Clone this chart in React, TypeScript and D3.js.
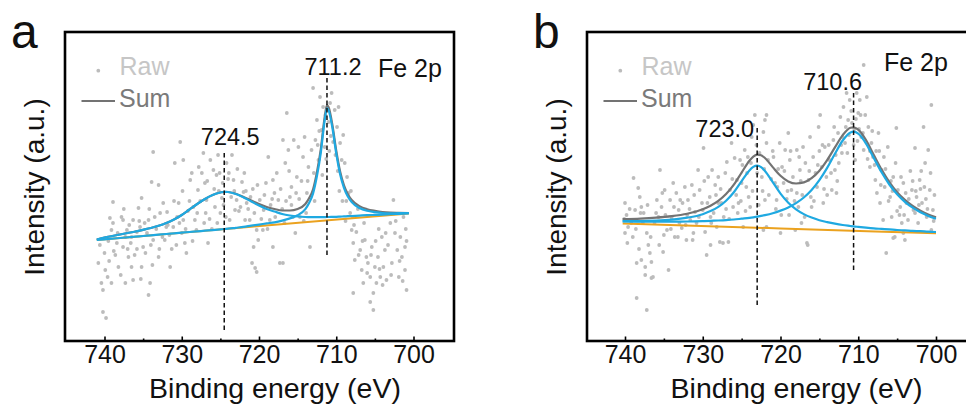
import React, { useEffect, useRef } from "react";
import * as d3 from "d3";

type Pt = [number, number];

const WIDTH = 966;
const HEIGHT = 408;

const BLUE = "#1fa9e1";
const GRAY = "#737373";
const ORANGE = "#eba21f";
const RAW = "#bcbcbc";
const FONT = "Arial, 'Liberation Sans', sans-serif";

const xTicks = [740, 730, 720, 710, 700];
const xMinorTicks = [735, 725, 715, 705];

// ---- panel a (fitted curves, intensity in a.u.) ----
const energiesA = [741, 740, 739, 738, 737, 736, 735, 734, 733, 732, 731, 730, 729, 728, 727, 726, 725, 724.5, 724, 723, 722, 721, 720, 719, 718, 717, 716, 715, 714, 713.5, 713, 712.5, 712, 711.5, 711.2, 711, 710.5, 710, 709.5, 709, 708.5, 708, 707, 706, 705, 704, 703, 702, 700.6];
const peak1A = [101.5, 103.5, 105, 106.5, 108, 109.5, 111.2, 113, 115.2, 118, 121.5, 126, 131.5, 137, 142, 146, 148.5, 149.2, 149, 147, 143.5, 139.5, 135.5, 132, 129.5, 127, 125.5, 124.5, 124, 123.9, 123.8, 123.8, 123.8, 123.9, 124, 124, 124.1, 124.2, 124.4, 124.6, 124.8, 125, 125.4, 125.8, 126.1, 126.4, 126.8, 127.1, 127.5];
const peak2A = [101, 101.7, 102.3, 103, 103.7, 104.3, 105, 105.6, 106.3, 107, 107.6, 108.3, 109, 109.6, 110.3, 110.9, 111.6, 112, 112.3, 113.2, 114.1, 115.3, 116.4, 117.6, 118.7, 120.4, 122.6, 125.7, 131.9, 138.2, 147.6, 164.9, 188.2, 220.5, 232.7, 230.9, 213.2, 187.5, 166.8, 153.2, 144.5, 138.9, 133, 130.2, 128.9, 128, 127.7, 127.8, 128];
const sumA = [101.5, 103.5, 105, 106.5, 108, 109.5, 111.2, 113, 115.2, 118, 121.5, 126, 131.5, 137, 142, 146, 148.5, 149.2, 149, 147.3, 144, 140.5, 137, 134, 132, 130.5, 130.5, 132, 137, 142.9, 151.8, 168.8, 191.8, 223.9, 236, 234, 216.1, 190.2, 169.4, 155.6, 146.8, 141, 134.9, 131.8, 130.1, 128.9, 128.3, 128.1, 128];
const backgroundA: Pt[] = [[741, 101], [721, 114.3], [700.6, 127.5]];
const peaksA = [724.5, 711.2];
const peakTextA = ["724.5", "711.2"];
const peakSpanA: Pt[] = [[188, 8], [263, 84]];

const rawA: Pt[] = [
  [740.2, 29], [739.8, 23], [740.4, 58], [740.2, 51], [740.8, 78], [739.9, 71], [739.3, 123], [738.9, 139], [739.1, 111], [738.4, 98],
  [738.6, 86], [738.2, 74], [739.1, 58], [737.8, 124], [737.6, 121], [737.1, 111], [737.6, 94], [736.9, 84], [737.3, 58], [736.5, 104],
  [736.3, 121], [735.8, 109], [736.5, 74], [736.3, 61], [735.6, 133], [735.2, 143], [735.4, 114], [735, 94], [735.2, 74], [734.5, 108],
  [734.3, 121], [733.9, 159], [733, 156], [733.7, 101], [734.1, 58], [734.3, 46], [733, 84], [732.8, 128], [731.9, 129], [732.2, 101],
  [731.5, 74], [731.1, 114], [730.4, 138], [730.9, 178], [729.8, 181], [730.2, 199], [733.7, 189], [729.8, 121], [729.6, 98], [729.4, 88],
  [728.9, 161], [728.7, 168], [728.5, 134], [728.1, 111], [727.9, 151], [727.4, 168], [727.2, 188], [727, 158], [726.8, 141], [726.6, 98],
  [726.3, 181], [725.9, 171], [725.5, 166], [725.3, 186], [725.7, 134], [725, 128], [724.8, 143], [724.2, 178], [723.5, 186], [723.3, 161],
  [723.1, 131], [723.8, 121], [722.9, 141], [722.2, 159], [722, 149], [721.8, 121], [721.6, 138], [721.2, 121], [720.9, 78], [720.5, 73],
  [720.3, 111], [720.1, 101], [720.7, 94], [720.3, 69], [719.4, 131], [718.8, 184], [718.6, 121], [718.2, 161], [718, 148], [717.5, 141],
  [717.3, 78], [716.9, 201], [716.6, 178], [716.4, 228], [716.2, 191], [716, 144], [715.8, 154], [715.5, 201], [715.3, 108], [715.1, 164],
  [714.9, 194], [714.7, 124], [714.3, 184], [714.1, 204], [713.8, 148], [713.6, 174], [713.4, 94], [713.2, 191], [713, 253], [712.7, 201],
  [712.5, 221], [712.3, 181], [712.1, 244], [711.9, 211], [711.7, 234], [711.5, 194], [711, 219], [710.8, 238], [710.6, 248], [710.4, 199],
  [710.2, 231], [709.9, 214], [709.7, 234], [709.5, 198], [709.3, 181], [708.9, 178], [708.6, 164], [708.4, 148], [708.2, 128], [708, 111],
  [707.8, 98], [707.6, 81], [707.4, 109], [706.9, 91], [706.7, 71], [706.5, 58], [706.3, 101], [706.1, 84], [705.9, 78], [705.6, 64],
  [705.4, 94], [705.2, 48], [705, 74], [704.8, 58], [704.6, 84], [704.3, 64], [704.1, 104], [703.9, 74], [703.7, 91], [703.5, 61],
  [703, 118], [702.8, 78], [702.6, 141], [702.1, 91], [701.9, 64], [701.7, 104], [701.5, 84], [701.3, 124], [701.1, 94], [700.9, 51],
  [701.1, 71], [705.2, 31], [705.6, 39], [707.8, 48], [716.9, 78], [718.2, 94], [719.5, 111], [739.5, 100], [738.8, 90], [737.3, 104],
  [736.8, 116], [735.8, 92], [734.8, 118], [734, 96], [733.3, 112], [732.5, 104], [731.8, 116], [731.3, 92], [730.6, 124], [730, 108],
  [729.2, 130], [728.3, 121], [727.6, 140], [726.9, 128], [726.1, 112], [725.2, 150], [724.6, 136], [724, 162], [723.6, 144], [722.6, 130],
  [721.9, 168], [721.4, 132], [720.8, 152], [719.9, 141], [719.1, 158], [718.5, 136], [717.7, 168], [717, 132], [716.7, 118], [715.8, 136],
  [714.5, 160], [713.9, 128], [712.9, 168], [712.2, 210], [711.3, 182], [710.7, 205], [709.8, 170], [709.1, 206], [708.7, 140], [707.9, 124],
  [707.2, 132], [706.4, 118], [704.5, 112], [703.3, 96], [702.4, 108], [700.9, 100],
  [740.6, 96], [740, 88], [739.6, 64], [739.4, 80], [738.9, 118], [738.3, 108], [737.9, 66], [737.5, 132], [737, 92], [736.6, 98],
  [736.1, 86], [735.5, 120], [735.3, 62], [734.7, 88], [734.2, 132], [733.8, 76], [733.5, 124], [732.9, 92], [732.4, 138], [732, 114],
  [731.6, 106], [731, 140], [730.7, 96], [730.3, 118], [729.9, 150], [729.5, 112], [729, 140], [728.6, 100], [728, 128], [727.8, 174],
  [727.1, 118], [726.7, 160], [726.4, 122], [725.8, 152], [725.4, 118], [725.1, 168], [724.7, 158], [724.3, 124], [723.9, 168], [723.2, 150],
  [722.8, 172], [722.4, 134], [721.7, 150], [721.1, 144], [720.6, 128], [720.2, 156], [719.7, 122], [719.3, 146], [718.9, 112], [718.3, 142],
  [717.9, 124], [717.2, 152], [716.5, 140], [716.1, 170], [715.6, 124], [715.2, 148], [714.8, 142], [714.2, 120], [713.7, 160], [712.8, 140],
  [712.4, 196], [711.8, 166], [711.4, 226], [710.9, 190], [710.1, 186], [709.6, 150], [709.2, 140], [708.8, 120], [708.1, 150], [707.7, 116],
  [707.1, 86], [706.6, 100], [706, 68], [705.5, 86], [704.9, 100], [704.4, 72], [704, 56], [703.6, 108], [702.9, 66], [702.3, 120],
  [701.8, 80], [701.4, 60], [701, 112],
];

// ---- panel b ----
const energiesB = [740.3, 738, 736, 734, 732, 730, 729, 728, 727, 726, 725, 724, 723.5, 723, 722.5, 722, 721, 720, 719, 718, 717, 716, 715, 714, 713, 712, 711, 710.6, 710, 709, 708, 707, 706, 705, 704, 703, 702, 701, 700];
const peak1B = [119.8, 119.9, 120.4, 121.4, 123.3, 126.8, 129.9, 134.1, 140.3, 148.8, 159.9, 170.6, 174.1, 175.3, 173.9, 170.1, 158.9, 147.4, 138.3, 131.7, 126.9, 123.4, 120.8, 118.9, 117.3, 116, 115, 114.6, 114.1, 113.3, 112.6, 112.1, 111.6, 111, 110.6, 110.1, 109.8, 109.3, 109];
const peak2B = [119.6, 119.4, 119.3, 119.4, 119.5, 119.9, 120.2, 120.5, 120.9, 121.5, 122.3, 123.1, 123.7, 124.4, 125.1, 125.9, 127.8, 130.4, 133.6, 137.9, 143.5, 151, 160.8, 173.1, 187.2, 200.5, 208.6, 209.3, 207.3, 197.4, 183, 168.7, 156.5, 146.7, 139.2, 133.3, 128.7, 125.1, 122.3];
const sumB = [121.9, 122.4, 123.3, 124.8, 127.3, 131.7, 135.3, 140.1, 146.9, 156.3, 168.4, 180.2, 184.4, 186.4, 185.8, 183, 173.9, 165.2, 159.6, 157.5, 158.6, 162.8, 170.3, 180.9, 193.6, 205.9, 213.2, 213.6, 211.3, 200.8, 186, 171.4, 158.9, 148.8, 141.1, 135, 130.3, 126.5, 123.6];
const backgroundB: Pt[] = [[740.3, 117.5], [720, 112.6], [700, 107.7]];
const peaksB = [723.0, 710.6];
const peakTextB = ["723.0", "710.6"];
const peakSpanB: Pt[] = [[213, 33], [248, 69]];

const rawB: Pt[] = [
  [740, 138], [739.8, 126], [739.6, 114], [740, 108], [738.9, 163], [738.7, 131], [738.3, 153], [738.1, 144], [738.5, 78], [737.9, 134],
  [737.6, 128], [737.4, 74], [737.2, 108], [737, 96], [736.8, 88], [736.6, 79], [736.4, 64], [737.4, 66], [735.9, 141], [735.7, 124],
  [735.5, 171], [735.3, 134], [735.1, 89], [734.9, 151], [734.6, 111], [734.4, 71], [734.2, 141], [734, 123], [733.8, 158], [733.6, 104],
  [733.4, 148], [733.1, 131], [732.9, 141], [732.7, 113], [732.3, 154], [732.1, 101], [731.9, 141], [731.6, 121], [731.4, 156], [731.2, 108],
  [731, 129], [730.6, 171], [730.4, 151], [730.1, 138], [729.9, 193], [729.7, 109], [729.5, 86], [729.3, 164], [729.1, 144], [728.8, 171],
  [728.6, 128], [728.4, 156], [728.2, 114], [728, 164], [727.8, 99], [727.6, 138], [727.1, 168], [726.9, 179], [726.7, 99], [726.5, 151],
  [726.3, 198], [725.9, 183], [725.6, 161], [725.4, 138], [725.2, 181], [725, 158], [724.8, 114], [724.6, 191], [724.3, 168], [724.1, 144],
  [723.9, 134], [723.7, 204], [723.3, 226], [723.5, 216], [722.2, 209], [721.8, 226], [722.4, 164], [722, 141], [721.6, 181], [721.8, 114],
  [738.5, 43], [737.2, 31], [736.6, 63], [737.9, 81], [722, 221], [721.8, 198], [720.9, 184], [720.7, 158], [720.5, 141], [720.1, 198],
  [719.8, 174], [719.6, 158], [719.4, 191], [719, 208], [718.8, 181], [718.6, 151], [718.4, 164], [718.1, 111], [717.9, 191], [717.7, 134],
  [717.5, 171], [717.3, 118], [717.1, 194], [716.6, 98], [716.4, 161], [716.2, 204], [716, 134], [715.8, 184], [715.3, 154], [715.1, 214],
  [714.9, 226], [714.7, 174], [714.5, 138], [714.3, 194], [714.1, 164], [713.7, 181], [713.4, 151], [713.2, 201], [713, 171], [712.8, 148],
  [712.6, 208], [712.3, 224], [712.1, 188], [711.9, 234], [711.7, 198], [711.5, 248], [711.3, 221], [711.1, 241], [710.2, 248], [710, 228],
  [709.8, 241], [709.3, 276], [710.4, 181], [709.6, 204], [709.3, 191], [708.9, 244], [708.7, 214], [708.5, 174], [708.3, 198], [708.1, 184],
  [707.8, 161], [707.6, 148], [707.4, 208], [707.2, 138], [707, 171], [706.8, 121], [706.6, 154], [706.4, 88], [706.2, 194], [705.9, 144],
  [705.7, 124], [705.5, 164], [705.3, 104], [705.1, 213], [704.9, 151], [704.6, 134], [704.4, 118], [704.2, 158], [704, 101], [703.8, 138],
  [703.6, 121], [703.1, 151], [702.9, 131], [702.7, 193], [702.5, 144], [702.3, 118], [702.1, 161], [701.8, 138], [701.6, 214], [701.4, 178],
  [701.2, 124], [701, 191], [700.8, 151], [700.6, 236], [700.4, 131], [700.6, 111], [704.2, 108], [705.5, 103], [716.5, 96], [720, 108],
  [722.2, 111], [727.4, 98], [729, 96], [731.3, 101], [739.2, 118], [738, 128], [736.2, 118], [735, 106], [733, 118], [732, 126],
  [730.8, 118], [730, 131], [729, 124], [728, 138], [727.3, 124], [726.1, 134], [725.7, 146], [724.9, 176], [724.4, 154], [723.8, 178],
  [723, 168], [722.7, 188], [722.3, 150], [721.2, 162], [720.6, 132], [720.3, 172], [719.2, 142], [718.9, 126], [717.9, 148], [717.4, 160],
  [716.8, 178], [716.1, 144], [715.5, 168], [715, 190], [714.4, 152], [713.8, 196], [712.9, 186], [712.5, 178], [712, 204], [711.4, 188],
  [710.8, 218], [710.6, 196], [710.3, 222], [709.9, 212], [709.1, 226], [708.5, 190], [707.9, 176], [707.3, 190], [706.5, 172], [705.8, 160],
  [705.2, 178], [704.7, 126], [703.9, 148], [703.3, 170], [702.7, 128], [702, 152], [701.3, 142], [700.7, 168], [700.2, 146],
  [740.1, 122], [739.7, 98], [739.4, 132], [739, 104], [738.6, 112], [738.2, 92], [737.7, 118], [737.1, 136], [736.7, 104], [736, 128],
  [735.6, 96], [735.2, 148], [734.8, 126], [734.1, 112], [733.7, 134], [733.2, 104], [732.6, 138], [732.2, 116], [731.7, 132], [731.1, 146],
  [730.5, 124], [729.8, 160], [729.4, 138], [728.9, 118], [728.3, 146], [727.7, 152], [727, 132], [726.6, 122], [726.2, 162], [725.5, 128],
  [725.1, 140], [724.5, 130], [724.2, 184], [723.6, 150], [723.1, 196], [722.8, 136], [722.1, 172], [721.5, 146], [721, 190], [720.4, 154],
  [719.9, 126], [719.5, 170], [719.1, 150], [718.7, 190], [718.2, 140], [717.6, 184], [717.2, 146], [716.9, 124], [716.3, 170], [715.7, 140],
  [715.2, 176], [714.6, 196], [714, 146], [713.5, 168], [713.1, 214], [712.7, 160], [712.2, 196], [711.6, 214], [711.2, 206], [710.9, 230],
  [710.5, 212], [710.1, 200], [709.7, 226], [709.4, 208], [708.8, 182], [708.2, 210], [707.7, 190], [707.1, 156], [706.7, 184], [706.1, 140],
  [705.6, 150], [705, 130], [704.5, 164], [704.1, 126], [703.5, 142], [703, 160], [702.6, 150], [702.2, 136], [701.9, 170], [701.5, 154],
  [701.1, 132], [700.3, 120],
];

const zip = (xs: number[], ys: number[]): Pt[] => xs.map((e, i) => [e, ys[i]]);

interface PanelCfg {
  letter: string;
  frameLeft: number;
  frameRight: number;
  xRange: [number, number];
  raw: Pt[];
  background: Pt[];
  sum: Pt[];
  peaks: Pt[][];
  peakEnergies: number[];
  peakText: string[];
  peakSpan: Pt[];
  labelOffset: { dx: number; dy: number; anchor: string }[];
  fePos: Pt;
}

const panels: PanelCfg[] = [
  {
    letter: "a",
    frameLeft: 65,
    frameRight: 454,
    xRange: [104.5, 413.5],
    raw: rawA,
    background: backgroundA,
    sum: zip(energiesA, sumA),
    peaks: [zip(energiesA, peak1A), zip(energiesA, peak2A)],
    peakEnergies: peaksA,
    peakText: peakTextA,
    peakSpan: peakSpanA,
    labelOffset: [
      { dx: 6, dy: -8, anchor: "middle" },
      { dx: 6, dy: -3, anchor: "middle" },
    ],
    fePos: [378, 77],
  },
  {
    letter: "b",
    frameLeft: 587,
    frameRight: 976,
    xRange: [625, 936],
    raw: rawB,
    background: backgroundB,
    sum: zip(energiesB, sumB),
    peaks: [zip(energiesB, peak1B), zip(energiesB, peak2B)],
    peakEnergies: peaksB,
    peakText: peakTextB,
    peakSpan: peakSpanB,
    labelOffset: [
      { dx: -3, dy: 9, anchor: "end" },
      { dx: -21, dy: -3, anchor: "middle" },
    ],
    fePos: [884, 71],
  },
];

function drawPanel(svg: d3.Selection<SVGSVGElement, unknown, null, undefined>, p: PanelCfg) {
  const top = 32;
  const bottom = 341;
  const x = d3.scaleLinear().domain([740, 700]).range(p.xRange);
  const y = d3.scaleLinear().domain([0, 309]).range([bottom, top]);
  const g = svg.append("g").style("font-family", FONT);

  // raw points
  g.append("g")
    .selectAll("circle")
    .data(p.raw)
    .enter()
    .append("circle")
    .attr("cx", (d) => x(d[0]))
    .attr("cy", (d) => y(d[1]))
    .attr("r", 1.9)
    .attr("fill", RAW);

  const line = d3
    .line<Pt>()
    .x((d) => x(d[0]))
    .y((d) => y(d[1]))
    .curve(d3.curveMonotoneX);

  g.append("path").attr("d", line(p.background)).attr("fill", "none").attr("stroke", ORANGE).attr("stroke-width", 2);
  g.append("path").attr("d", line(p.sum)).attr("fill", "none").attr("stroke", GRAY).attr("stroke-width", 2.2);
  p.peaks.forEach((pk) => {
    g.append("path").attr("d", line(pk)).attr("fill", "none").attr("stroke", BLUE).attr("stroke-width", 2.2);
  });

  // peak markers
  p.peakEnergies.forEach((e, i) => {
    const [hi, lo] = p.peakSpan[i];
    g.append("line")
      .attr("x1", x(e))
      .attr("x2", x(e))
      .attr("y1", y(hi))
      .attr("y2", y(lo))
      .attr("stroke", "#111")
      .attr("stroke-width", 1.5)
      .attr("stroke-dasharray", "4.5,3");
    const o = p.labelOffset[i];
    g.append("text")
      .attr("x", x(e) + o.dx)
      .attr("y", y(hi) + o.dy)
      .attr("text-anchor", o.anchor)
      .style("font-size", "23.5px")
      .attr("fill", "#111")
      .text(p.peakText[i]);
  });

  // frame
  g.append("rect")
    .attr("x", p.frameLeft)
    .attr("y", top)
    .attr("width", p.frameRight - p.frameLeft)
    .attr("height", bottom - top)
    .attr("fill", "none")
    .attr("stroke", "#000")
    .attr("stroke-width", 2.6);

  // x axis, ticks pointing inward
  const axis = g.append("g").attr("transform", `translate(0,${bottom})`);
  axis.call(d3.axisBottom(x).tickValues(xTicks).tickSize(-4.5).tickPadding(4).tickFormat(d3.format("d")));
  const minor = g.append("g").attr("transform", `translate(0,${bottom})`);
  minor.call(d3.axisBottom(x).tickValues(xMinorTicks).tickSize(-2.5).tickFormat(() => ""));
  [axis, minor].forEach((a) => {
    a.select(".domain").remove();
    a.selectAll("line").attr("stroke", "#000").attr("stroke-width", 1.6);
  });
  axis
    .selectAll("text")
    .attr("fill", "#111")
    .style("font-size", "25px")
    .style("font-family", FONT);

  g.append("text")
    .attr("x", x(720) + 16)
    .attr("y", 398)
    .attr("text-anchor", "middle")
    .style("font-size", "28.5px")
    .attr("fill", "#111")
    .text("Binding energy (eV)");

  g.append("text")
    .attr("transform", `translate(${p.frameLeft - 21},187) rotate(-90)`)
    .attr("text-anchor", "middle")
    .style("font-size", "28px")
    .attr("fill", "#111")
    .text("Intensity (a.u.)");

  // legend
  const lx = p.frameLeft;
  g.append("circle").attr("cx", lx + 33.3).attr("cy", 70.7).attr("r", 1.9).attr("fill", RAW);
  g.append("text").attr("x", lx + 54.5).attr("y", 75).style("font-size", "25px").attr("fill", "#c6c6c6").text("Raw");
  g.append("line")
    .attr("x1", lx + 16.5)
    .attr("x2", lx + 50)
    .attr("y1", 101)
    .attr("y2", 101)
    .attr("stroke", GRAY)
    .attr("stroke-width", 2);
  g.append("text").attr("x", lx + 54).attr("y", 107.3).style("font-size", "25px").attr("fill", "#7a7a7a").text("Sum");

  g.append("text")
    .attr("x", p.fePos[0])
    .attr("y", p.fePos[1])
    .style("font-size", "25px")
    .attr("fill", "#111")
    .text("Fe 2p");

  g.append("text")
    .attr("x", p.frameLeft - 54)
    .attr("y", 48)
    .style("font-size", "48px")
    .attr("fill", "#111")
    .text(p.letter);
}

export default function App() {
  const svgRef = useRef<SVGSVGElement | null>(null);

  useEffect(() => {
    const svg = d3.select(svgRef.current as SVGSVGElement);
    svg.selectAll("*").remove();
    svg.append("rect").attr("width", WIDTH).attr("height", HEIGHT).attr("fill", "#fff");
    panels.forEach((p) => drawPanel(svg, p));
  }, []);

  return (
    <svg
      ref={svgRef}
      width={WIDTH}
      height={HEIGHT}
      style={{ position: "absolute", left: 0, top: 0, display: "block" }}
    />
  );
}
